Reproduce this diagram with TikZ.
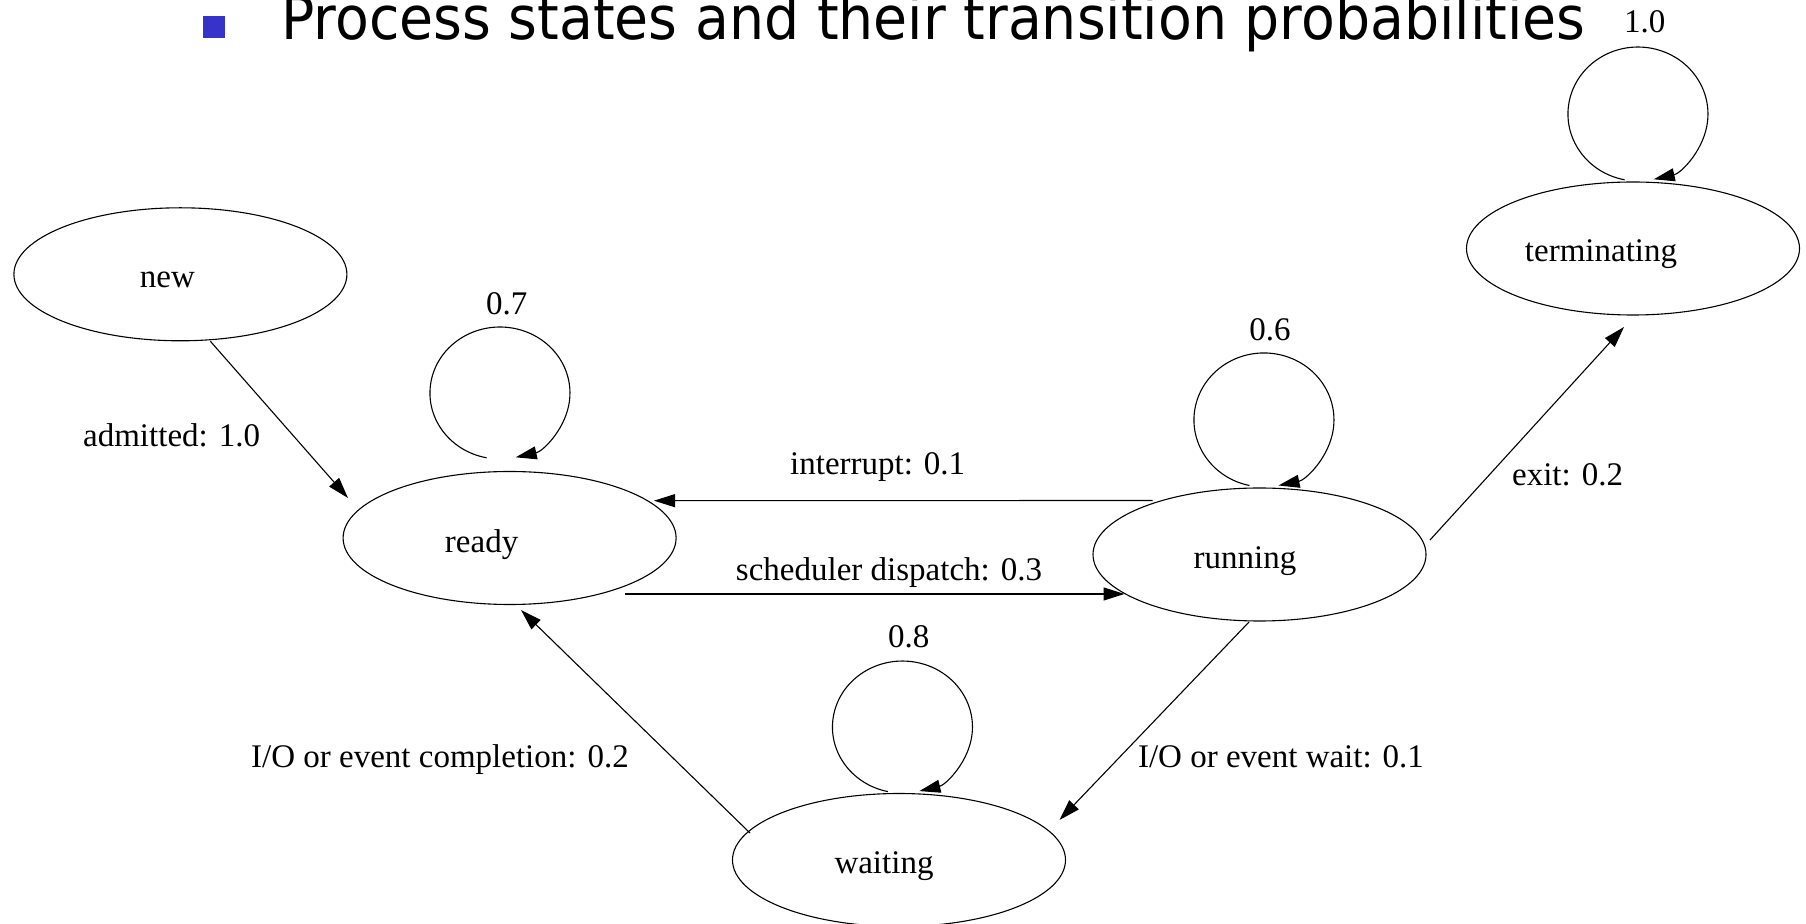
\documentclass[tikz,border=0pt]{standalone}
\usepackage{graphicx}
\usepackage{fontspec}
\setmainfont{Liberation Serif}
\newfontfamily\titlefont{DejaVu Sans}
\usetikzlibrary{shapes.geometric,arrows.meta,calc}
\definecolor{bulletblue}{HTML}{3533CA}
\begin{document}
\begin{tikzpicture}[x=0.5pt,y=-0.5pt,
  state/.style={draw,ellipse,minimum width=166.5pt,minimum height=66.5pt,inner sep=0pt,line width=0.55pt},
  stext/.style={anchor=base,inner sep=0pt,font=\fontsize{16.5pt}{18pt}\selectfont},
  elabel/.style={anchor=base,inner sep=0pt,font=\fontsize{16.5pt}{18pt}\selectfont},
  arr/.style={line width=0.55pt,-{Triangle[length=10.5pt,width=6.5pt]}}]

\fill[white] (0,0) rectangle (1806,924);
\useasboundingbox (0,0) rectangle (1806,924);

% title
\fill[bulletblue] (203,16) rectangle (225,38);
\node[anchor=base west,inner sep=0pt] (title) at (281,40)
  {\resizebox{652pt}{\height}{\titlefont\fontsize{30pt}{33pt}\selectfont Process states and their transition probabilities}};

% states
\node[state] (new) at (180.4,274.3) {};
\node[stext] (newT) at ([shift={(-13,13)}]new.center) {new};
\node[state] (ready) at (509.6,538) {};
\node[stext] (readyT) at ([shift={(-28,15)}]ready.center) {ready};
\node[state] (running) at (1259.5,554.5) {};
\node[stext] (runningT) at ([shift={(-14.5,14)}]running.center) {running};
\node[state] (terminating) at (1633,248.5) {};
\node[stext] (terminatingT) at ([shift={(-32,13)}]terminating.center) {terminating};
\node[state] (waiting) at (899,860) {};
\node[stext] (waitingT) at ([shift={(-15,14)}]waiting.center) {waiting};

% straight transitions
\draw[arr] ([shift={(30,67)}]new.center) -- ([shift={(-161.6,-40)}]ready.center);
\draw[arr] ([shift={(-107,-54)}]running.center) -- ([shift={(144.4,-37.3)}]ready.center);
\draw[arr] ([shift={(115.4,56)}]ready.center) -- ([shift={(-135,39.5)}]running.center);
\draw[arr] ([shift={(170.5,-14.5)}]running.center) -- ([shift={(-9,78.5)}]terminating.center);
\draw[arr] ([shift={(-10.5,67.5)}]running.center) -- ([shift={(160.5,-40)}]waiting.center);
\draw[arr] ([shift={(-149,-27)}]waiting.center) -- ([shift={(11.4,72)}]ready.center);

% self loops
\coordinate (readyLoop) at ([shift={(-23,-80.2)}]ready.center);
\draw[arr] (readyLoop) arc[start angle=101, end angle=437, x radius=70, y radius=66];
\coordinate (runningLoop) at ([shift={(-10.1,-69)}]running.center);
\draw[arr] (runningLoop) arc[start angle=102, end angle=438, x radius=70, y radius=67];
\coordinate (terminatingLoop) at ([shift={(-8.4,-68.7)}]terminating.center);
\draw[arr] (terminatingLoop) arc[start angle=101, end angle=437, x radius=70, y radius=67];
\coordinate (waitingLoop) at ([shift={(-11.1,-68.4)}]waiting.center);
\draw[arr] (waitingLoop) arc[start angle=102, end angle=436, x radius=70, y radius=66];

% labels
\node[elabel] (lAdm) at (171.6,447) {admitted: 1.0};
\node[elabel] (lReady) at (506.8,315) {0.7};
\node[elabel] (lInt) at (877.7,475) {interrupt: 0.1};
\node[elabel] (lSched) at (889,581) {scheduler dispatch: 0.3};
\node[elabel] (lRun) at (1270,341) {0.6};
\node[elabel] (lExit) at (1567.6,486) {exit: 0.2};
\node[elabel] (lTerm) at (1644.8,33) {1.0};
\node[elabel] (lWait) at (908.8,648) {0.8};
\node[elabel] (lComp) at (440,768) {I/O or event completion: 0.2};
\node[elabel] (lIOw) at (1281,768) {I/O or event wait: 0.1};
\end{tikzpicture}
\end{document}
